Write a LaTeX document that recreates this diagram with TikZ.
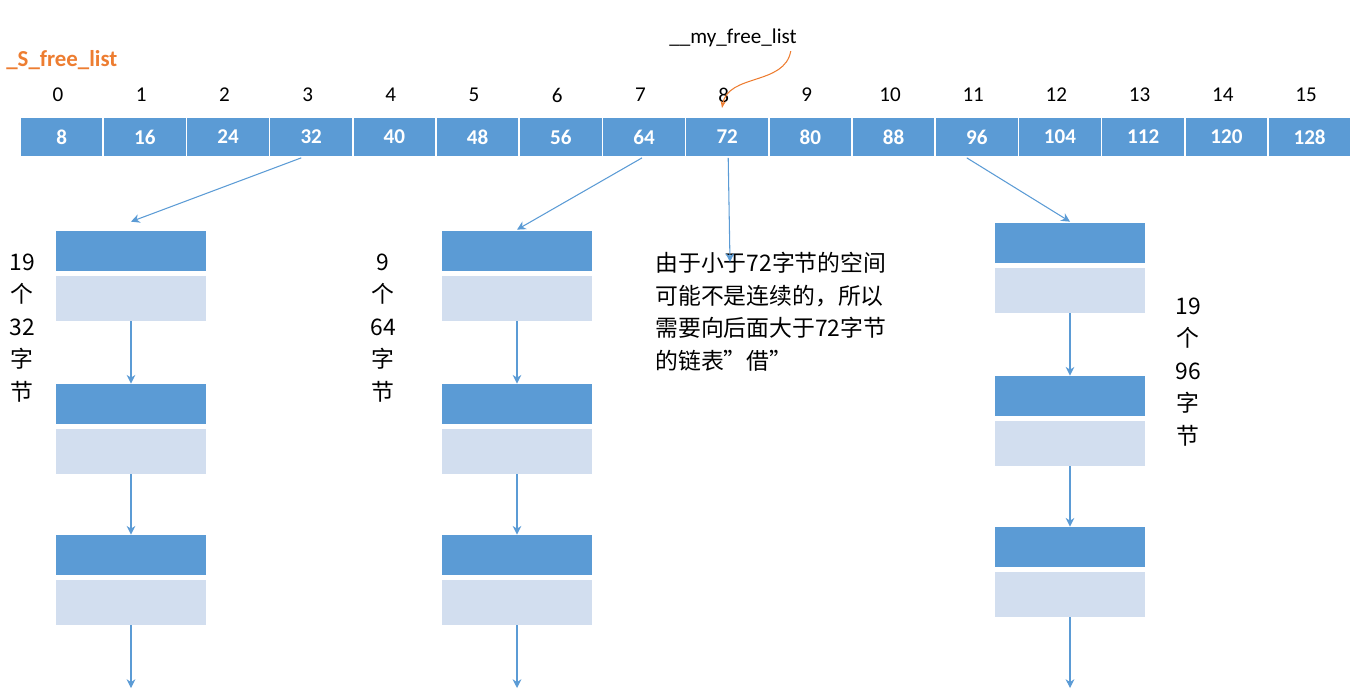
\documentclass[tikz,border=0pt]{standalone}
\usepackage{fontspec}
\setmainfont{Carlito}
\newfontfamily\cjk{Noto Sans CJK SC}
\usetikzlibrary{arrows.meta}
\definecolor{cellblue}{HTML}{5B9BD5}
\definecolor{lightblue}{HTML}{D2DEEF}
\definecolor{listorange}{HTML}{ED7D31}
\tikzset{
  cell/.style={draw=white,line width=1pt,fill=cellblue,minimum width=83.2*0.02cm,minimum height=40*0.02cm,
    inner sep=0pt,text=white,font=\fontsize{12}{14}\selectfont\bfseries},
  hdr/.style={fill=cellblue,minimum width=150*0.02cm,minimum height=40*0.02cm,inner sep=0pt},
  body/.style={fill=lightblue,minimum width=150*0.02cm,minimum height=45*0.02cm,inner sep=0pt},
  link/.style={draw=cellblue,-{Stealth[length=5pt,width=5pt]},line width=0.6pt},
  side/.style={align=center,font=\cjk\fontsize{13}{18.5}\selectfont}
}
\begin{document}
\begin{tikzpicture}[x=0.02cm,y=-0.02cm]
  \useasboundingbox (0,0) rectangle (1371,696);
  % the free list array
  \foreach \i in {0,...,15} {
    \pgfmathtruncatemacro{\sz}{8*(\i+1)}
    \node[cell] (c\i) at (61.6+83.2*\i,137) {\sz};
    \node[font=\fontsize{12}{14}\selectfont] (n\i) at (58+83.2*\i,95) {\i};
  }
  \node[font=\fontsize{13}{15}\selectfont\bfseries,text=listorange,anchor=west,inner sep=0pt] (sname) at (6,60) {\_S\_free\_list};
  \node[font=\fontsize{12}{14}\selectfont,inner sep=1pt] (myname) at (733,38) {\_\_my\_free\_list};
  \draw[listorange,-{Stealth[length=4pt]},line width=0.6pt] (myname.south east) ++(-8,2) to[out=-100,in=80] (722,108);

  % linked blocks
  \foreach \col/\x/\y in {a/131/231, b/517/231, c/1070/223} {
    \foreach \k/\dy in {1/0, 2/153, 3/304} {
      \node[hdr] (\col h\k) at (\x,\y+\dy+20) {};
      \node[body,anchor=north] (\col b\k) at ([yshift=-4*0.02cm]\col h\k.south) {};
    }
    \draw[link] (\col b1.south) -- (\col h2.north);
    \draw[link] (\col b2.south) -- (\col h3.north);
    \coordinate (\col end) at (\x,688);
    \draw[link] (\col b3.south) -- (\col end);
  }
  \draw[link] ([xshift=-10*0.02cm]c3.south) -- ([yshift=9*0.02cm]ah1.north);
  \draw[link] ([xshift=-2*0.02cm]c7.south) -- ([yshift=1*0.02cm]bh1.north);
  \draw[link] ([xshift=-10*0.02cm]c11.south) -- ([yshift=1*0.02cm]ch1.north);

  % notes
  \node[side] (anote) at (22,328) {19\\个\\32\\字\\节};
  \node[side] (bnote) at (383,328) {9\\个\\64\\字\\节};
  \node[side] (cnote) at (1188,372) {19\\个\\96\\字\\节};
  \node[anchor=north west,align=left,inner sep=0pt,font=\cjk\fontsize{13}{18.5}\selectfont] (borrow) at (655,252)
    {由于小于72字节的空间\\可能不是连续的，所以\\需要向后面大于72字节\\的链表”借”};
  \draw[link] ([xshift=1*0.02cm]c8.south) -- ([xshift=75*0.02cm,yshift=-10*0.02cm]borrow.north west);
\end{tikzpicture}
\end{document}
